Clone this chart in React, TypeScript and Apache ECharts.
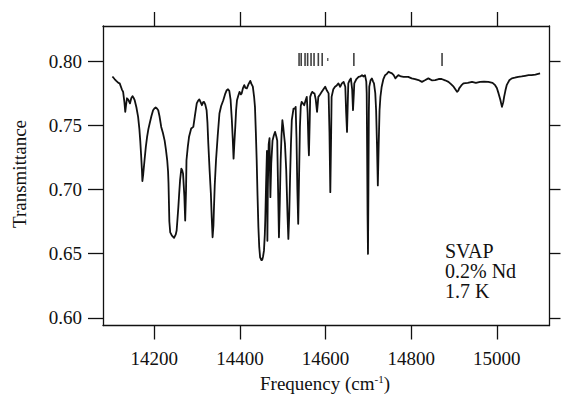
import React, { useEffect, useRef } from "react";
import * as echarts from "echarts";

// Spectrum (frequency in cm^-1, transmittance)
const freq = [
  14102, 14107, 14111, 14116, 14119, 14124, 14127, 14130, 14132, 14134, 14136, 14139, 14143, 14146, 14149, 14152, 14154, 14158,
  14162, 14165, 14167, 14169, 14171, 14172, 14174, 14177, 14180, 14183, 14186, 14189, 14193, 14197, 14200, 14203, 14206, 14209,
  14212, 14216, 14220, 14224, 14227, 14230, 14232, 14233, 14235, 14237, 14241, 14246, 14250, 14252, 14254, 14256, 14258, 14260,
  14263, 14265, 14267, 14270, 14272, 14274, 14275, 14278, 14281, 14286, 14291, 14295, 14299, 14302, 14305, 14308, 14311, 14314,
  14316, 14319, 14322, 14324, 14326, 14329, 14332, 14334, 14336, 14338, 14339, 14341, 14344, 14348, 14352, 14356, 14361, 14365,
  14369, 14372, 14375, 14378, 14381, 14383, 14385, 14387, 14389, 14391, 14393, 14396, 14399, 14402, 14404, 14407, 14410, 14413,
  14416, 14420, 14424, 14427, 14430, 14433, 14435, 14437, 14439, 14441, 14443, 14445, 14447, 14450, 14452, 14454, 14456, 14458,
  14459, 14461, 14463, 14464, 14465, 14467, 14469, 14471, 14473, 14476, 14479, 14482, 14485, 14487, 14489, 14491, 14493, 14495,
  14497, 14499, 14501, 14503, 14505, 14508, 14511, 14513, 14515, 14517, 14519, 14521, 14525, 14528, 14530, 14532, 14534, 14536,
  14538, 14540, 14542, 14544, 14547, 14550, 14553, 14556, 14558, 14560, 14561, 14563, 14564, 14567, 14569, 14572, 14574, 14577,
  14580, 14582, 14583, 14587, 14591, 14595, 14599, 14603, 14607, 14609, 14611, 14613, 14614, 14618, 14622, 14626, 14630, 14634,
  14638, 14642, 14646, 14648, 14650, 14652, 14653, 14656, 14659, 14662, 14664, 14666, 14667, 14672, 14677, 14681, 14685, 14688,
  14692, 14695, 14696, 14697, 14698, 14699, 14700, 14701, 14702, 14705, 14708, 14711, 14713, 14716, 14718, 14720, 14722, 14724,
  14726, 14728, 14731, 14735, 14739, 14743, 14747, 14751, 14755, 14759, 14763, 14767, 14770, 14776, 14782, 14787, 14793, 14801,
  14809, 14817, 14825, 14832, 14840, 14848, 14856, 14864, 14871, 14879, 14887, 14893, 14899, 14903, 14907, 14910, 14912, 14917,
  14922, 14932, 14942, 14951, 14961, 14970, 14980, 14990, 14996, 15000, 15004, 15008, 15012, 15015, 15017, 15020, 15023, 15029,
  15035, 15042, 15050, 15058, 15066, 15074, 15081, 15090, 15101,
];
const trans = [
  0.788, 0.786, 0.7846, 0.783, 0.7826, 0.778, 0.776, 0.768, 0.7604, 0.766, 0.771, 0.770, 0.767, 0.771, 0.7727, 0.771, 0.7695, 0.764,
  0.7565, 0.747, 0.738, 0.727, 0.7148, 0.7065, 0.712, 0.7227, 0.733, 0.741, 0.747, 0.7513, 0.757, 0.7617, 0.763, 0.7638, 0.763, 0.7617,
  0.757, 0.7487, 0.744, 0.738, 0.731, 0.7227, 0.714, 0.705, 0.675, 0.6666, 0.664, 0.6623, 0.665, 0.668, 0.677, 0.6862, 0.697, 0.707,
  0.7162, 0.715, 0.7123, 0.695, 0.6758, 0.700, 0.7227, 0.733, 0.741, 0.7474, 0.7487, 0.758, 0.767, 0.769, 0.7701, 0.768, 0.7656, 0.768,
  0.7682, 0.766, 0.7617, 0.752, 0.7357, 0.715, 0.6966, 0.678, 0.6627, 0.672, 0.6836, 0.703, 0.7227, 0.742, 0.7591, 0.765, 0.7695, 0.774,
  0.7773, 0.778, 0.7768, 0.770, 0.7539, 0.740, 0.724, 0.737, 0.7487, 0.762, 0.7695, 0.773, 0.776, 0.774, 0.7748, 0.779, 0.7812, 0.779,
  0.7787, 0.782, 0.7846, 0.782, 0.780, 0.772, 0.7643, 0.745, 0.7227, 0.695, 0.6706, 0.655, 0.6471, 0.645, 0.6451, 0.648, 0.6523, 0.665,
  0.6758, 0.705, 0.730, 0.660, 0.700, 0.735, 0.740, 0.694, 0.720, 0.738, 0.742, 0.7448, 0.741, 0.738, 0.700, 0.6627, 0.690, 0.7227,
  0.742, 0.7539, 0.7487, 0.742, 0.7357, 0.715, 0.680, 0.6615, 0.680, 0.7096, 0.735, 0.7539, 0.763, 0.763, 0.7643, 0.740, 0.700, 0.6732,
  0.710, 0.7487, 0.765, 0.7682, 0.767, 0.7656, 0.769, 0.7721, 0.760, 0.735, 0.7266, 0.755, 0.7721, 0.775, 0.776, 0.775, 0.7748, 0.770,
  0.7604, 0.768, 0.7721, 0.774, 0.776, 0.778, 0.780, 0.777, 0.7748, 0.745, 0.6979, 0.745, 0.7721, 0.778, 0.780, 0.781, 0.7826, 0.780,
  0.7826, 0.7838, 0.780, 0.760, 0.7448, 0.770, 0.7826, 0.785, 0.7865, 0.778, 0.7617, 0.775, 0.7826, 0.786, 0.7877, 0.788, 0.789, 0.788,
  0.789, 0.784, 0.775, 0.730, 0.680, 0.6498, 0.700, 0.760, 0.780, 0.785, 0.7865, 0.784, 0.7826, 0.775, 0.7617, 0.735, 0.7031, 0.735,
  0.7617, 0.772, 0.780, 0.786, 0.789, 0.790, 0.7917, 0.791, 0.7904, 0.789, 0.7865, 0.788, 0.789, 0.788, 0.7877, 0.7877, 0.7877, 0.7865,
  0.786, 0.7852, 0.7838, 0.785, 0.7865, 0.785, 0.7852, 0.786, 0.786, 0.785, 0.7838, 0.782, 0.780, 0.778, 0.776, 0.777, 0.7787, 0.781,
  0.7826, 0.783, 0.7838, 0.783, 0.7838, 0.784, 0.7838, 0.783, 0.7812, 0.779, 0.7748, 0.770, 0.7643, 0.768, 0.7721, 0.777, 0.7812, 0.785,
  0.7865, 0.787, 0.7877, 0.788, 0.7885, 0.789, 0.789, 0.7895, 0.7904,
];

// Line-position markers above the spectrum
const markerFreq = [14538, 14543, 14552, 14558, 14566, 14573, 14583, 14592, 14666, 14872];
const markerDotFreq = [14605];
const markerLevel = 0.8012;

// Axis ticks
const xTicks = [14200, 14400, 14600, 14800, 15000];
const yTicks = [0.6, 0.65, 0.7, 0.75, 0.8];

const annotation = ["SVAP", "0.2% Nd", "1.7 K"];

const FONT = "Liberation Serif";

export default function App() {
  const ref = useRef<HTMLDivElement>(null);

  useEffect(() => {
    if (!ref.current) return;
    const chart = echarts.init(ref.current, undefined, { renderer: "svg" });
    const axisLine = { show: true, lineStyle: { color: "#111", width: 1.3 } };
    const tickStyle = { color: "#111", width: 1.3 };
    const labelText = { fontFamily: FONT, fontSize: 19, color: "#111" };

    chart.setOption({
      animation: false,
      backgroundColor: "#fff",
      textStyle: { fontFamily: FONT },
      grid: { left: 103, right: 12.5, top: 26, bottom: 69.5, containLabel: false },
      xAxis: [
        {
          type: "value",
          position: "bottom",
          min: 14080,
          max: 15123,
          axisLine,
          splitLine: { show: false },
          axisTick: { show: true, inside: false, length: 14, lineStyle: tickStyle, customValues: xTicks },
          axisLabel: {
            show: true,
            customValues: xTicks,
            margin: 23,
            ...labelText,
            textStyle: labelText,
            formatter: (v: number) => String(v),
          },
        },
        {
          type: "value",
          position: "top",
          min: 14080,
          max: 15123,
          axisLine,
          splitLine: { show: false },
          axisTick: { show: true, inside: false, length: 14, lineStyle: tickStyle, customValues: xTicks },
          axisLabel: { show: false },
        },
      ],
      yAxis: [
        {
          type: "value",
          position: "left",
          min: 0.594,
          max: 0.8273,
          axisLine,
          splitLine: { show: false },
          axisTick: { show: true, inside: false, length: 15, lineStyle: tickStyle, customValues: yTicks },
          axisLabel: {
            show: true,
            customValues: yTicks,
            margin: 21,
            ...labelText,
            textStyle: labelText,
            formatter: (v: number) => v.toFixed(2),
          },
        },
        {
          type: "value",
          position: "right",
          min: 0.594,
          max: 0.8273,
          axisLine,
          splitLine: { show: false },
          axisTick: { show: true, inside: false, length: 11, lineStyle: tickStyle, customValues: yTicks },
          axisLabel: { show: false },
        },
      ],
      series: [
        {
          type: "line",
          xAxisIndex: 0,
          yAxisIndex: 0,
          data: freq.map((f, i) => [f, trans[i]]),
          showSymbol: false,
          symbol: "none",
          lineStyle: { color: "#111", width: 1.8, join: "round" },
          z: 3,
        },
        {
          type: "scatter",
          xAxisIndex: 0,
          yAxisIndex: 0,
          data: markerFreq.map((f) => [f, markerLevel]),
          symbol: "rect",
          symbolSize: [1.6, 13],
          itemStyle: { color: "#111" },
          z: 4,
        },
        {
          type: "scatter",
          xAxisIndex: 0,
          yAxisIndex: 0,
          data: markerDotFreq.map((f) => [f, markerLevel]),
          symbol: "rect",
          symbolSize: [1.4, 3],
          itemStyle: { color: "#333" },
          z: 4,
        },
      ],
      graphic: [
        {
          type: "text",
          x: 19,
          y: 174,
          rotation: Math.PI / 2,
          style: {
            text: "Transmittance",
            fontFamily: FONT,
            fontSize: 19,
            fill: "#111",
            align: "center",
            verticalAlign: "middle",
          },
        },
        {
          type: "text",
          x: 325,
          y: 383,
          style: {
            text: "{a|Frequency (cm}{s|-1}{a|)}",
            align: "center",
            verticalAlign: "middle",
            fill: "#111",
            rich: {
              a: { fontFamily: FONT, fontSize: 19, lineHeight: 19, fill: "#111" },
              s: { fontFamily: FONT, fontSize: 11, fill: "#111", verticalAlign: "top", lineHeight: 11 },
            },
          },
        },
        {
          type: "text",
          x: 445,
          y: 241,
          style: {
            text: annotation.join("\n"),
            fontFamily: FONT,
            fontSize: 20,
            lineHeight: 20,
            fill: "#111",
            align: "left",
            verticalAlign: "top",
          },
        },
      ],
    });
    return () => chart.dispose();
  }, []);

  return <div ref={ref} style={{ width: 562, height: 395, position: "absolute", left: 0, top: 0 }} />;
}
